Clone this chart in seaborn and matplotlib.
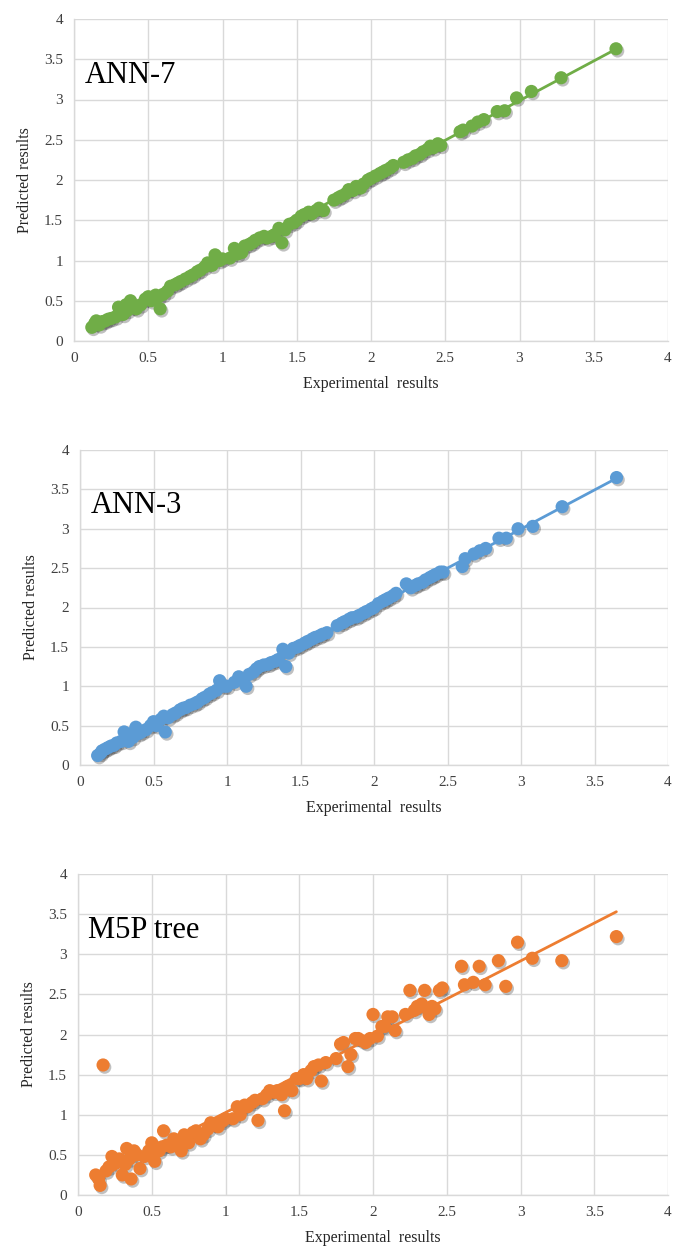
import numpy as np
import pandas as pd
import matplotlib
matplotlib.use("Agg")
import matplotlib.pyplot as plt
import matplotlib.patheffects as pe
import seaborn as sns

# Experimental results (shared x values)
experimental = [
    0.12, 0.14, 0.15, 0.17, 0.19, 0.21, 0.23, 0.25, 0.28, 0.30,
    0.32, 0.33, 0.35, 0.36, 0.38, 0.40, 0.42, 0.45, 0.48, 0.50,
    0.52, 0.55, 0.57, 0.58, 0.60, 0.63, 0.65, 0.68, 0.70, 0.72,
    0.75, 0.78, 0.80, 0.83, 0.85, 0.88, 0.90, 0.93, 0.95, 0.98,
    1.00, 1.05, 1.08, 1.10, 1.13, 1.15, 1.18, 1.20, 1.22, 1.25,
    1.28, 1.30, 1.33, 1.35, 1.38, 1.40, 1.42, 1.45, 1.48, 1.50,
    1.53, 1.55, 1.58, 1.60, 1.63, 1.65, 1.68, 1.75, 1.78, 1.80,
    1.83, 1.85, 1.88, 1.90, 1.93, 1.95, 1.98, 2.00, 2.03, 2.06,
    2.08, 2.10, 2.13, 2.15, 2.22, 2.25, 2.28, 2.30, 2.33, 2.35,
    2.38, 2.40, 2.42, 2.45, 2.47, 2.60, 2.62, 2.68, 2.72, 2.76,
    2.85, 2.90, 2.98, 3.08, 3.28, 3.65,
]

ann7_pred = [
    0.17, 0.22, 0.25, 0.20, 0.24, 0.25, 0.27, 0.28, 0.30, 0.42,
    0.36, 0.33, 0.45, 0.38, 0.50, 0.42, 0.40, 0.45, 0.52, 0.55,
    0.50, 0.57, 0.55, 0.40, 0.58, 0.62, 0.68, 0.70, 0.72, 0.74,
    0.77, 0.80, 0.82, 0.86, 0.88, 0.92, 0.97, 0.94, 1.07, 1.00,
    1.02, 1.03, 1.15, 1.08, 1.10, 1.18, 1.20, 1.22, 1.25, 1.28,
    1.30, 1.28, 1.30, 1.32, 1.40, 1.22, 1.38, 1.45, 1.47, 1.50,
    1.55, 1.57, 1.60, 1.58, 1.62, 1.65, 1.62, 1.75, 1.78, 1.80,
    1.83, 1.88, 1.87, 1.92, 1.90, 1.95, 2.00, 2.02, 2.05, 2.08,
    2.10, 2.12, 2.15, 2.18, 2.22, 2.25, 2.27, 2.30, 2.32, 2.35,
    2.38, 2.42, 2.40, 2.45, 2.43, 2.60, 2.62, 2.67, 2.72, 2.75,
    2.85, 2.86, 3.02, 3.10, 3.27, 3.63,
]

ann3_pred = [
    0.12, 0.15, 0.18, 0.20, 0.22, 0.24, 0.25, 0.28, 0.30, 0.42,
    0.34, 0.30, 0.40, 0.35, 0.48, 0.40, 0.42, 0.45, 0.50, 0.55,
    0.50, 0.58, 0.62, 0.42, 0.60, 0.64, 0.66, 0.70, 0.72, 0.73,
    0.76, 0.78, 0.80, 0.84, 0.86, 0.90, 0.92, 0.95, 1.07, 1.00,
    1.00, 1.05, 1.12, 1.10, 1.00, 1.15, 1.18, 1.22, 1.25, 1.27,
    1.28, 1.30, 1.32, 1.34, 1.47, 1.25, 1.42, 1.48, 1.50, 1.52,
    1.55, 1.57, 1.60, 1.62, 1.64, 1.66, 1.68, 1.77, 1.80, 1.82,
    1.85, 1.87, 1.88, 1.90, 1.93, 1.95, 1.98, 2.00, 2.05, 2.08,
    2.10, 2.12, 2.15, 2.18, 2.30, 2.25, 2.28, 2.30, 2.32, 2.35,
    2.38, 2.40, 2.42, 2.45, 2.45, 2.52, 2.62, 2.68, 2.72, 2.75,
    2.88, 2.88, 3.00, 3.03, 3.28, 3.65,
]

m5p_pred = [
    0.25, 0.20, 0.12, 1.62, 0.30, 0.35, 0.48, 0.40, 0.45, 0.25,
    0.38, 0.58, 0.45, 0.20, 0.55, 0.50, 0.33, 0.48, 0.55, 0.65,
    0.42, 0.55, 0.60, 0.80, 0.62, 0.60, 0.70, 0.65, 0.55, 0.75,
    0.65, 0.78, 0.80, 0.70, 0.75, 0.82, 0.90, 0.88, 0.85, 0.92,
    0.95, 0.95, 1.10, 1.00, 1.12, 1.10, 1.15, 1.18, 0.93, 1.20,
    1.25, 1.30, 1.28, 1.30, 1.25, 1.05, 1.35, 1.30, 1.45, 1.45,
    1.50, 1.45, 1.55, 1.60, 1.62, 1.42, 1.65, 1.70, 1.88, 1.90,
    1.60, 1.75, 1.95, 1.95, 1.92, 1.90, 1.95, 2.25, 1.98, 2.10,
    2.10, 2.22, 2.22, 2.05, 2.25, 2.55, 2.30, 2.35, 2.38, 2.55,
    2.25, 2.35, 2.32, 2.55, 2.58, 2.85, 2.62, 2.65, 2.85, 2.62,
    2.92, 2.60, 3.15, 2.95, 2.92, 3.22,
]

model_names = ["ANN-7", "ANN-3", "M5P tree"]
model_colors = ["#70AD47", "#5B9BD5", "#ED7D31"]
ticks = [0, 0.5, 1, 1.5, 2, 2.5, 3, 3.5, 4]
tick_labels = ["0", "0.5", "1", "1.5", "2", "2.5", "3", "3.5", "4"]

sns.set_theme(style="white")
plt.rcParams["font.family"] = ["Liberation Serif", "DejaVu Serif"]

fig = plt.figure(figsize=(6.74, 12.53), dpi=100)
W, H = 674.0, 1253.0
# (left px, right px, top px, bottom px)
boxes = [(74, 668, 19, 341), (80, 668, 450, 765), (78, 668, 874, 1195)]
preds = [ann7_pred, ann3_pred, m5p_pred]

for (l, r, t, b), name, col, pred in zip(boxes, model_names, model_colors, preds):
    ax = fig.add_axes([l / W, 1 - b / H, (r - l) / W, (b - t) / H])
    df = pd.DataFrame({"exp": experimental, "pred": pred})
    sns.regplot(
        data=df, x="exp", y="pred", ax=ax, ci=None, color=col,
        scatter_kws=dict(s=90, alpha=1, linewidths=0, zorder=3,
                         path_effects=[pe.SimplePatchShadow(offset=(1.2, -1.6), alpha=0.28, shadow_rgbFace="#202020"),
                                       pe.Normal()]),
        line_kws=dict(lw=2.0, zorder=4),
    )
    ax.set_xlim(0, 4)
    ax.set_ylim(0, 4)
    ax.set_xticks(ticks)
    ax.set_xticklabels(tick_labels)
    ax.set_yticks(ticks)
    ax.set_yticklabels(tick_labels)
    ax.grid(True, color="#d9d9d9", lw=1.0)
    ax.set_axisbelow(True)
    for s in ["top", "right"]:
        ax.spines[s].set_visible(False)
    for s in ["left", "bottom"]:
        ax.spines[s].set_color("#d9d9d9")
        ax.spines[s].set_linewidth(1.0)
    ax.tick_params(axis="both", length=0, labelsize=11, colors="#404040", pad=8)
    ax.set_xlabel("Experimental  results", fontsize=11.5, color="#262626", labelpad=8)
    ax.set_ylabel("Predicted results", fontsize=11.5, color="#262626", labelpad=8)
    ax.text(0.07, 3.3, name, fontsize=22, color="black", va="center", ha="left")
    ax.set_facecolor("white")

fig.savefig("out.png", dpi=100, facecolor="white")
